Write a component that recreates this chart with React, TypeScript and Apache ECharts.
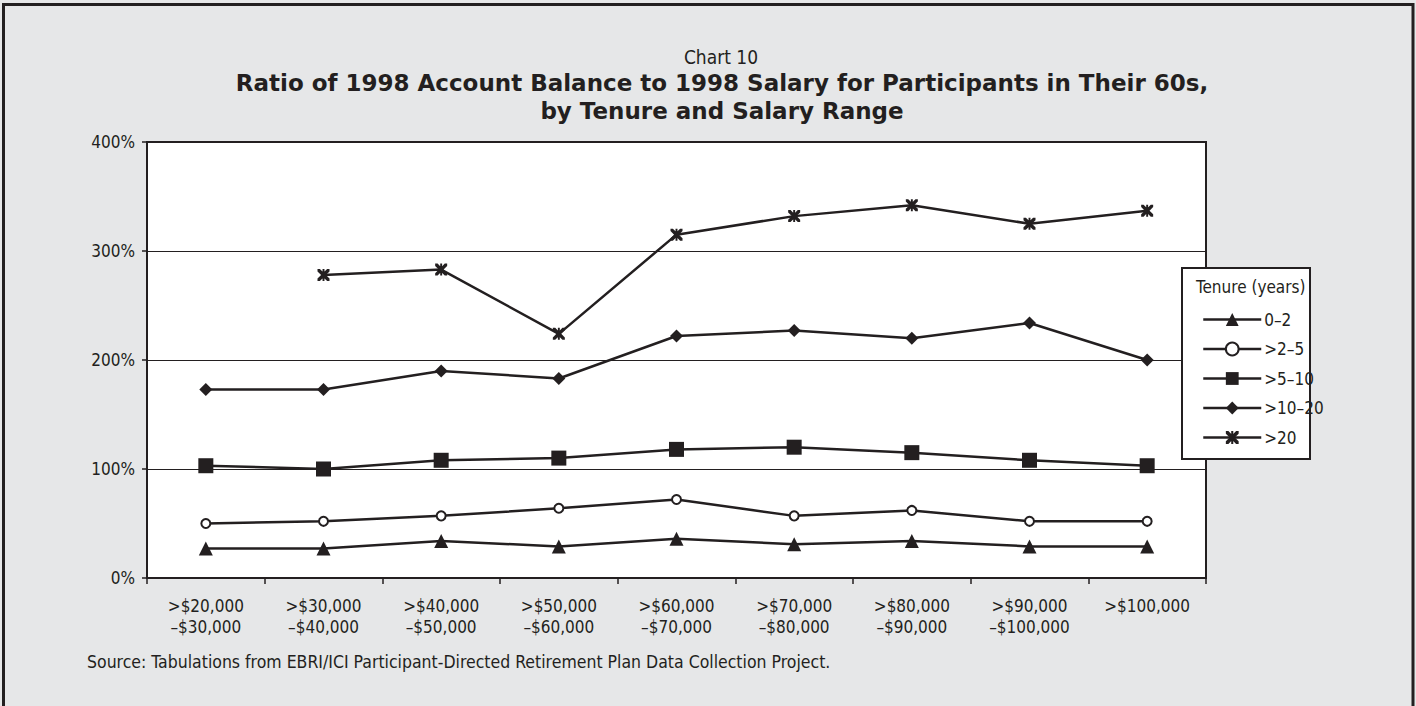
import React, { useEffect, useRef } from "react";
import * as echarts from "echarts";

const categories = [
  ">$20,000\n–$30,000",
  ">$30,000\n–$40,000",
  ">$40,000\n–$50,000",
  ">$50,000\n–$60,000",
  ">$60,000\n–$70,000",
  ">$70,000\n–$80,000",
  ">$80,000\n–$90,000",
  ">$90,000\n–$100,000",
  ">$100,000",
];
const tenure0to2 = [27, 27, 34, 29, 36, 31, 34, 29, 29];
const tenure2to5 = [50, 52, 57, 64, 72, 57, 62, 52, 52];
const tenure5to10 = [103, 100, 108, 110, 118, 120, 115, 108, 103];
const tenure10to20 = [173, 173, 190, 183, 222, 227, 220, 234, 200];
const tenure20plus = [null, 278, 283, 224, 315, 332, 342, 325, 337];
const seriesNames = ["0–2", ">2–5", ">5–10", ">10–20", ">20"];
const yTicks = [0, 100, 200, 300, 400];

const FONT = "'Liberation Sans Narrow', 'DejaVu Sans Condensed', 'Roboto Condensed', sans-serif";
const INK = "#231f20";
const ASTERISK =
  "path://M0,0 L2,0 L5,3 L8,0 L10,0 L10,2 L7,5 L10,8 L10,10 L8,10 L5,7 L2,10 L0,10 L0,8 L3,5 L0,2 Z M4.2,0 L5.8,0 L5.8,10 L4.2,10 Z";

export default function App() {
  const ref = useRef<HTMLDivElement>(null);
  useEffect(() => {
    document.body.style.margin = "0";
    const chart = echarts.init(ref.current!, undefined, { renderer: "svg" });
    const mk = (name: string, data: (number | null)[], symbol: string, size: number, hollow = false) => ({
      name,
      type: "line",
      data,
      symbol,
      symbolSize: size,
      showAllSymbol: true,
      lineStyle: { color: INK, width: 2.5 },
      itemStyle: hollow
        ? { color: "#fff", borderColor: INK, borderWidth: 2 }
        : { color: INK, borderWidth: 0 },
      emphasis: { disabled: true },
      z: 3,
    });
    chart.setOption({
      animation: false,
      backgroundColor: "#e6e7e8",
      textStyle: { fontFamily: FONT },
      grid: {
        left: 147,
        right: 210,
        top: 142,
        bottom: 128,
        show: true,
        backgroundColor: "#ffffff",
        borderColor: INK,
        borderWidth: 2,
      },
      xAxis: {
        type: "category",
        data: categories,
        boundaryGap: true,
        axisLine: { lineStyle: { color: INK, width: 2 } },
        axisTick: { show: true, length: 6, lineStyle: { color: INK, width: 1.5 } },
        axisLabel: {
          color: INK,
          fontSize: 17,
          lineHeight: 21,
          margin: 17,
          fontFamily: FONT,
          interval: 0,
        },
      },
      yAxis: {
        type: "value",
        min: yTicks[0],
        max: yTicks[yTicks.length - 1],
        interval: 100,
        axisLine: { show: true, lineStyle: { color: INK, width: 2 } },
        axisTick: { show: true, length: 5, lineStyle: { color: INK, width: 1.5 } },
        axisLabel: { color: INK, fontSize: 17, margin: 12, formatter: "{value}%", fontFamily: FONT },
        splitLine: { show: true, lineStyle: { color: INK, width: 1 } },
      },
      legend: {
        orient: "vertical",
        left: 1197,
        top: 306,
        itemWidth: 58,
        itemHeight: 16,
        itemGap: 12.5,
        z: 20,
        lineStyle: { width: 2.5, color: INK },
        textStyle: { color: INK, fontSize: 17, fontFamily: FONT, padding: [0, 0, 0, -2] },
        data: seriesNames,
      },
      graphic: [
        {
          type: "rect",
          shape: { x: 3.5, y: 4.5, width: 1409.5, height: 720 },
          style: { fill: "none", stroke: INK, lineWidth: 3 },
          z: 100,
          silent: true,
        },
        {
          type: "rect",
          shape: { x: 1182, y: 268, width: 128, height: 191 },
          style: { fill: "#ffffff", stroke: INK, lineWidth: 2 },
          z: 10,
          silent: true,
        },
        {
          type: "text",
          x: 1196,
          y: 287,
          style: { text: "Tenure (years)", fill: INK, fontSize: 17, fontFamily: FONT, textVerticalAlign: "middle" },
          z: 11,
        },
        {
          type: "text",
          x: 721,
          y: 57,
          style: { text: "Chart 10", fill: INK, fontSize: 19, fontFamily: FONT, textAlign: "center", textVerticalAlign: "middle" },
        },
        {
          type: "text",
          x: 722,
          y: 83,
          style: {
            text: "Ratio of 1998 Account Balance to 1998 Salary for Participants in Their 60s,",
            fill: INK,
            fontSize: 23,
            fontWeight: "bold",
            fontFamily: "'DejaVu Sans', sans-serif",
            textAlign: "center",
            textVerticalAlign: "middle",
          },
        },
        {
          type: "text",
          x: 722,
          y: 111,
          style: {
            text: "by Tenure and Salary Range",
            fill: INK,
            fontSize: 23,
            fontWeight: "bold",
            fontFamily: "'DejaVu Sans', sans-serif",
            textAlign: "center",
            textVerticalAlign: "middle",
          },
        },
        {
          type: "text",
          x: 87,
          y: 662,
          style: {
            text: "Source: Tabulations from EBRI/ICI Participant-Directed Retirement Plan Data Collection Project.",
            fill: INK,
            fontSize: 17.5,
            fontFamily: FONT,
            textVerticalAlign: "middle",
          },
        },
      ],
      series: [
        mk(seriesNames[0], tenure0to2, "triangle", 14),
        mk(seriesNames[1], tenure2to5, "circle", 9, true),
        mk(seriesNames[2], tenure5to10, "rect", 15),
        mk(seriesNames[3], tenure10to20, "diamond", 13),
        mk(seriesNames[4], tenure20plus, ASTERISK, 12),
      ],
    });
    return () => chart.dispose();
  }, []);
  return <div ref={ref} style={{ position: "fixed", left: 0, top: 0, width: 1416, height: 706 }} />;
}
